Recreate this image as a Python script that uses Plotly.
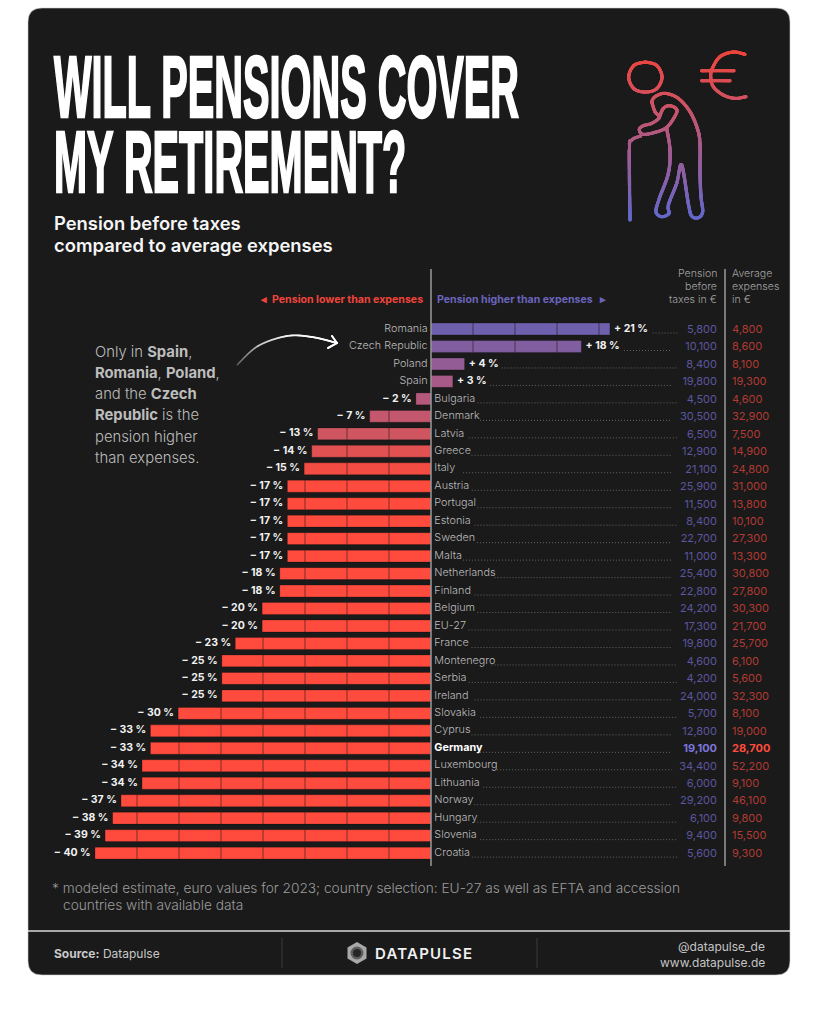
import numpy as np
import plotly.graph_objects as go

W, H = 819, 1024
ZERO_PX, PX_PER_PCT = 431, 8.4
TOP_ROW_PX, ROW_PX = 329, 17.47

countries = ["Romania", "Czech Republic", "Poland", "Spain", "Bulgaria", "Denmark", "Latvia", "Greece",
             "Italy", "Austria", "Portugal", "Estonia", "Sweden", "Malta", "Netherlands", "Finland",
             "Belgium", "EU-27", "France", "Montenegro", "Serbia", "Ireland", "Slovakia", "Cyprus",
             "Germany", "Luxembourg", "Lithuania", "Norway", "Hungary", "Slovenia", "Croatia"]
percent_labels = [21, 18, 4, 3, -2, -7, -13, -14, -15, -17, -17, -17, -17, -17, -18, -18,
                  -20, -20, -23, -25, -25, -25, -30, -33, -33, -34, -34, -37, -38, -39, -40]
bar_values = [21.3, 17.9, 4.0, 2.6, -1.8, -7.3, -13.5, -14.2, -15.1, -17.1, -17.1, -17.1, -17.1, -17.1,
              -18.0, -18.0, -20.1, -20.1, -23.3, -24.9, -24.9, -24.9, -30.1, -33.4, -33.4, -34.4, -34.4,
              -36.9, -37.9, -38.8, -40.0]
pension = [5800, 10100, 8400, 19800, 4500, 30500, 6500, 12900, 21100, 25900, 11500, 8400, 22700, 11000,
           25400, 22800, 24200, 17300, 19800, 4600, 4200, 24000, 5700, 12800, 19100, 34400, 6000, 29200,
           6100, 9400, 5600]
expenses = [4800, 8600, 8100, 19300, 4600, 32900, 7500, 14900, 24800, 31000, 13800, 10100, 27300, 13300,
            30800, 27800, 30300, 21700, 25700, 6100, 5600, 32300, 8100, 19000, 28700, 52200, 9100, 46100,
            9800, 15500, 9300]
note_lines = ["Only in <b>Spain</b>,", "<b>Romania</b>, <b>Poland</b>,", "and the <b>Czech</b>",
              "<b>Republic</b> is the", "pension higher", "than expenses."]

FONT = "Inter"
CARD = "#1a1a1a"
RED = "#ff4b3e"
BLUE = "#6a64bd"
rows = list(range(len(countries)))


def fx(px):
    return px / W


def fy(py):
    return 1 - py / H


def to_pct(px):
    return (px - ZERO_PX) / PX_PER_PCT


def text_px(s):
    narrow, wide = "iljtfr ", "mw"
    return sum(3.0 if c in narrow else 8.5 if c in wide else 5.7 for c in s)


def note(px, py, text, size=11, color="#b5b5b5", anchor="left", weight=None, family=FONT):
    return dict(x=fx(px), y=fy(py), xref="paper", yref="paper", text=text, showarrow=False,
                xanchor=anchor, yanchor="middle", align=anchor, borderpad=0, borderwidth=0,
                font=dict(family=family, size=size, color=color, weight=weight))


def spline(points, step=0.4):
    # catmull-rom through hand picked points of the icon, dense enough to draw as dots
    p = np.array([points[0]] + points + [points[-1]], dtype=float)
    out = []
    for i in range(1, len(p) - 2):
        n = max(int(np.hypot(*(p[i + 1] - p[i])) / step), 2)
        t = np.linspace(0, 1, n)[:, None]
        out.append(0.5 * (2 * p[i] + (p[i + 1] - p[i - 1]) * t
                          + (2 * p[i - 1] - 5 * p[i] + 4 * p[i + 1] - p[i + 2]) * t ** 2
                          + (3 * p[i] - p[i - 1] - 3 * p[i + 1] + p[i + 2]) * t ** 3))
    return np.vstack(out)


def icon(points):
    return spline([(620 + x / 3, 40 + y / 3) for x, y in points])


fig = go.Figure()

# bars with a colour drift from purple at the top to red
fig.add_trace(go.Bar(
    x=bar_values, y=rows, orientation="h", width=0.68,
    marker=dict(color=rows, cmin=0, cmax=30,
                colorscale=[[0, "#6e60ac"], [0.1, "#a75a88"], [0.2, "#cf5660"], [0.27, "#f44b42"],
                            [0.3, RED], [1, RED]],
                line=dict(color="rgba(0,0,0,0.28)", width=0.8)),
    hoverinfo="skip", showlegend=False))

# 5 % dividers inside each bar
div_x, div_y = [], []
for i, v in zip(rows, bar_values):
    for k in range(5, int(abs(v)) + 1, 5):
        if k < abs(v) - 0.3:
            div_x += [np.sign(v) * k, np.sign(v) * k, None]
            div_y += [i - 0.34, i + 0.34, None]
fig.add_trace(go.Scatter(x=div_x, y=div_y, mode="lines", line=dict(color="rgba(45,20,20,0.6)", width=1),
                         hoverinfo="skip", showlegend=False))

# dotted leaders between label and pension column
lead_x, lead_y = [], []
for i, (name, v, lab, p) in enumerate(zip(countries, bar_values, percent_labels, pension)):
    if v > 0:
        start = ZERO_PX + v * PX_PER_PCT + 4 + 5.6 * len(f"+ {lab} %") + 5
    else:
        start = ZERO_PX + 3 + text_px(name) + 6
    end = 717 - 11 - 5.7 * len(f"{p:,}")
    lead_x += [to_pct(start), to_pct(end), None]
    lead_y += [i + 0.23, i + 0.23, None]
fig.add_trace(go.Scatter(x=lead_x, y=lead_y, mode="lines", line=dict(color="#666666", width=1, dash="1px 2px"),
                         hoverinfo="skip", showlegend=False))

pos = [i for i in rows if bar_values[i] > 0]
neg = [i for i in rows if bar_values[i] < 0]
GER = countries.index("Germany")

# percent labels
fig.add_trace(go.Scatter(
    x=[bar_values[i] + 0.5 for i in pos], y=pos, text=[f"+ {percent_labels[i]} %" for i in pos],
    mode="text", textposition="middle right", cliponaxis=False, hoverinfo="skip", showlegend=False,
    textfont=dict(family=FONT, size=10.5, color="#f2f2f2", weight=700)))
fig.add_trace(go.Scatter(
    x=[bar_values[i] - 0.5 for i in neg], y=neg, text=[f"\u2212 {abs(percent_labels[i])} %" for i in neg],
    mode="text", textposition="middle left", cliponaxis=False, hoverinfo="skip", showlegend=False,
    textfont=dict(family=FONT, size=10.5, color="#f2f2f2", weight=700)))

# country labels, each side of the axis
fig.add_trace(go.Scatter(
    x=[-0.4] * len(pos), y=pos, text=[countries[i] for i in pos],
    mode="text", textposition="middle left", hoverinfo="skip", showlegend=False,
    textfont=dict(family=FONT, size=10.8, color="#bcbcbc", weight=300)))
plain = [i for i in neg if i != GER]
fig.add_trace(go.Scatter(
    x=[0.4] * len(plain), y=plain, text=[countries[i] for i in plain],
    mode="text", textposition="middle right", hoverinfo="skip", showlegend=False,
    textfont=dict(family=FONT, size=10.8, color="#bcbcbc", weight=300)))
fig.add_trace(go.Scatter(
    x=[0.4], y=[GER], text=[countries[GER]],
    mode="text", textposition="middle right", hoverinfo="skip", showlegend=False,
    textfont=dict(family=FONT, size=10.8, color="#ffffff", weight=700)))

# euro columns
for values, px, anchor, color, strong in [(pension, 717, "middle left", "#5a569f", "#7d75dc"),
                                           (expenses, 732, "middle right", "#b23a33", RED)]:
    idx = [i for i in rows if i != GER]
    fig.add_trace(go.Scatter(
        x=[to_pct(px)] * len(idx), y=[i + 0.06 for i in idx], text=[f"{values[i]:,}" for i in idx],
        mode="text", textposition=anchor, hoverinfo="skip", showlegend=False,
        textfont=dict(family=FONT, size=11, color=color)))
    fig.add_trace(go.Scatter(
        x=[to_pct(px)], y=[GER + 0.06], text=[f"{values[GER]:,}"],
        mode="text", textposition=anchor, hoverinfo="skip", showlegend=False,
        textfont=dict(family=FONT, size=11, color=strong, weight=700)))

# icon: person, cane and euro sign, dots coloured by height
paths = [
    icon([(76, 66), (110, 76), (126, 111), (110, 146), (76, 156), (42, 146), (26, 111), (42, 76), (76, 66)]),
    icon([(375, 43), (340, 36), (300, 50), (277, 85), (272, 110), (280, 140), (310, 165), (345, 175), (378, 170)]),
    icon([(245, 92), (342, 92)]),
    icon([(245, 122), (330, 122)]),
    icon([(95, 185), (105, 170), (135, 160), (175, 175), (210, 215), (232, 265), (240, 310), (240, 400),
          (243, 470), (248, 515), (235, 533), (215, 528), (205, 490), (185, 375), (170, 430), (145, 495),
          (147, 520), (125, 530), (108, 515), (118, 475), (145, 400), (150, 330), (140, 265)]),
    icon([(95, 185), (105, 215), (118, 232), (95, 250), (70, 257), (58, 268), (68, 283), (105, 277),
          (140, 262), (165, 228), (170, 208), (150, 197), (130, 205), (118, 232)]),
    icon([(30, 540), (28, 330), (35, 300), (62, 288)]),
]
pts = np.vstack(paths)
fig.add_trace(go.Scatter(
    x=pts[:, 0], y=pts[:, 1], xaxis="x2", yaxis="y2", mode="markers", hoverinfo="skip", showlegend=False,
    marker=dict(size=3.2, color=pts[:, 1], cmin=50, cmax=215,
                colorscale=[[0, "#ef453b"], [0.35, "#cc5568"], [0.7, "#94609f"], [1, "#6668c8"]])))

# callout arrow, fading out towards its tail
curve = spline([(237, 365), (258, 346), (287, 336), (312, 337), (337, 343)])
head = np.vstack([spline([(332, 336), (337, 343)]), spline([(328, 348), (337, 343)])])
alpha = np.linspace(0.05, 1, len(curve))
fig.add_trace(go.Scatter(
    x=np.r_[curve[:, 0], head[:, 0]], y=np.r_[curve[:, 1], head[:, 1]], xaxis="x2", yaxis="y2",
    mode="markers", hoverinfo="skip", showlegend=False,
    marker=dict(size=1.8, color=[f"rgba(255,255,255,{a:.2f})" for a in alpha] + ["#ffffff"] * len(head))))

shapes = [
    dict(type="path", xref="paper", yref="paper", layer="below", fillcolor=CARD,
         line=dict(color="#cfcfcf", width=0.6),
         path=(f"M {fx(42)} {fy(8)} L {fx(776)} {fy(8)} Q {fx(790)} {fy(8)} {fx(790)} {fy(22)} "
               f"L {fx(790)} {fy(961)} Q {fx(790)} {fy(975)} {fx(776)} {fy(975)} "
               f"L {fx(42)} {fy(975)} Q {fx(28)} {fy(975)} {fx(28)} {fy(961)} "
               f"L {fx(28)} {fy(22)} Q {fx(28)} {fy(8)} {fx(42)} {fy(8)} Z")),
]
for x0, y0, x1, y1, col, lw in [(431, 269, 431, 866, "#9a9a9a", 1.5), (725, 269, 725, 866, "#9a9a9a", 1.5),
                                (28, 931, 790, 931, "#d8d8d8", 1.6),
                                (282, 938, 282, 968, "#3a3a3a", 1), (537, 938, 537, 968, "#3a3a3a", 1)]:
    shapes.append(dict(type="line", xref="paper", yref="paper", x0=fx(x0), y0=fy(y0), x1=fx(x1), y1=fy(y1),
                       line=dict(color=col, width=lw)))

# footer logo mark
hexagon = [(357, 942), (366.5, 947.5), (366.5, 958.5), (357, 964), (347.5, 958.5), (347.5, 947.5)]
shapes.append(dict(type="path", xref="paper", yref="paper", fillcolor="#a8a8a8", line=dict(width=0),
                   path="M " + " L ".join(f"{fx(a)} {fy(b)}" for a, b in hexagon) + " Z"))
shapes.append(dict(type="circle", xref="paper", yref="paper", fillcolor="#5e5e5e", line=dict(width=0),
                   x0=fx(350.5), x1=fx(363.5), y0=fy(946.5), y1=fy(959.5)))
shapes.append(dict(type="circle", xref="paper", yref="paper", fillcolor="#262626", line=dict(width=0),
                   x0=fx(353), x1=fx(361), y0=fy(949), y1=fy(957)))

annotations = [
    # second line is pulled up after drawing, see post script
    note(54, 143, "WILL PENSIONS COVER<br>MY RETIREMENT?", size=88, color="#ffffff", weight=700,
         family="Liberation Sans"),
    note(54, 223, "Pension before taxes", size=18.4, color="#f5f5f5", weight=600),
    note(54, 245, "compared to average expenses", size=18.4, color="#f5f5f5", weight=600),
    note(423, 299.5, "\u25c2\u00a0\u00a0Pension lower than expenses", size=10.6, color="#f0443a", anchor="right", weight=700),
    note(437, 299.5, "Pension higher than expenses\u00a0\u00a0\u00a0\u25b8", size=10.6, color=BLUE, weight=700),
    note(717, 273, "Pension", size=10.6, anchor="right", color="#a3a3a3", weight=300),
    note(717, 286, "before", size=10.6, anchor="right", color="#a3a3a3", weight=300),
    note(717, 299, "taxes in \u20ac", size=10.6, anchor="right", color="#a3a3a3", weight=300),
    note(732, 273, "Average", size=10.6, color="#a3a3a3", weight=300),
    note(732, 286, "expenses", size=10.6, color="#a3a3a3", weight=300),
    note(732, 299, "in \u20ac", size=10.6, color="#a3a3a3", weight=300),
    note(52, 888, "* modeled estimate, euro values for 2023; country selection: EU-27 as well as EFTA and accession",
         size=13.7, color="#9a9a9a", weight=300),
    note(63, 905, "countries with available data", size=13.7, color="#9a9a9a", weight=300),
    note(54, 953, "<b>Source:</b> Datapulse", size=12, color="#c8c8c8"),
    note(375, 953, "DATAPULSE", size=15, color="#f0f0f0", weight=600),
    note(765, 946, "@datapulse_de", size=12, color="#c4c4c4", anchor="right"),
    note(765, 962, "www.datapulse.de", size=12, color="#c4c4c4", anchor="right"),
]
for k, line in enumerate(note_lines):
    annotations.append(note(95, 351.5 + k * 21.3, line, size=14.8, color="#bdbdbd", weight=300))

hidden = dict(visible=False, fixedrange=True)
fig.update_layout(
    width=W, height=H, margin=dict(l=0, r=0, t=0, b=0), autosize=False,
    paper_bgcolor="#ffffff", plot_bgcolor="rgba(0,0,0,0)", showlegend=False,
    xaxis=dict(range=[to_pct(0), to_pct(W)], domain=[0, 1], **hidden),
    yaxis=dict(range=[(H - TOP_ROW_PX) / ROW_PX, -TOP_ROW_PX / ROW_PX], domain=[0, 1], **hidden),
    xaxis2=dict(range=[0, W], overlaying="x", **hidden),
    yaxis2=dict(range=[H, 0], overlaying="y", **hidden),
    shapes=shapes, annotations=annotations)

# the title face is far narrower than any installed font, so squeeze it after drawing
post = """
document.body.style.margin = '0';
document.querySelectorAll('.annotation-text').forEach(function (t) {
  if (t.textContent.indexOf('WILL PENSIONS') === 0) {
    var lines = t.querySelectorAll('tspan.line');
    var first = lines[0].getBBox();
    var target = 465 / first.width;
    lines[1].setAttribute('dy', (75 / 88) + 'em');
    t.setAttribute('transform', 'translate(' + first.x + ',0) scale(' + target + ',1) translate(' + (-first.x) + ',0)');
    t.style.stroke = '#ffffff';
    t.style.strokeWidth = '2.5px';
  }
  if (t.textContent === 'DATAPULSE') { t.style.letterSpacing = '1.2px'; }
});
"""
fig.write_html("out.html", config={"displayModeBar": False}, post_script=post)
